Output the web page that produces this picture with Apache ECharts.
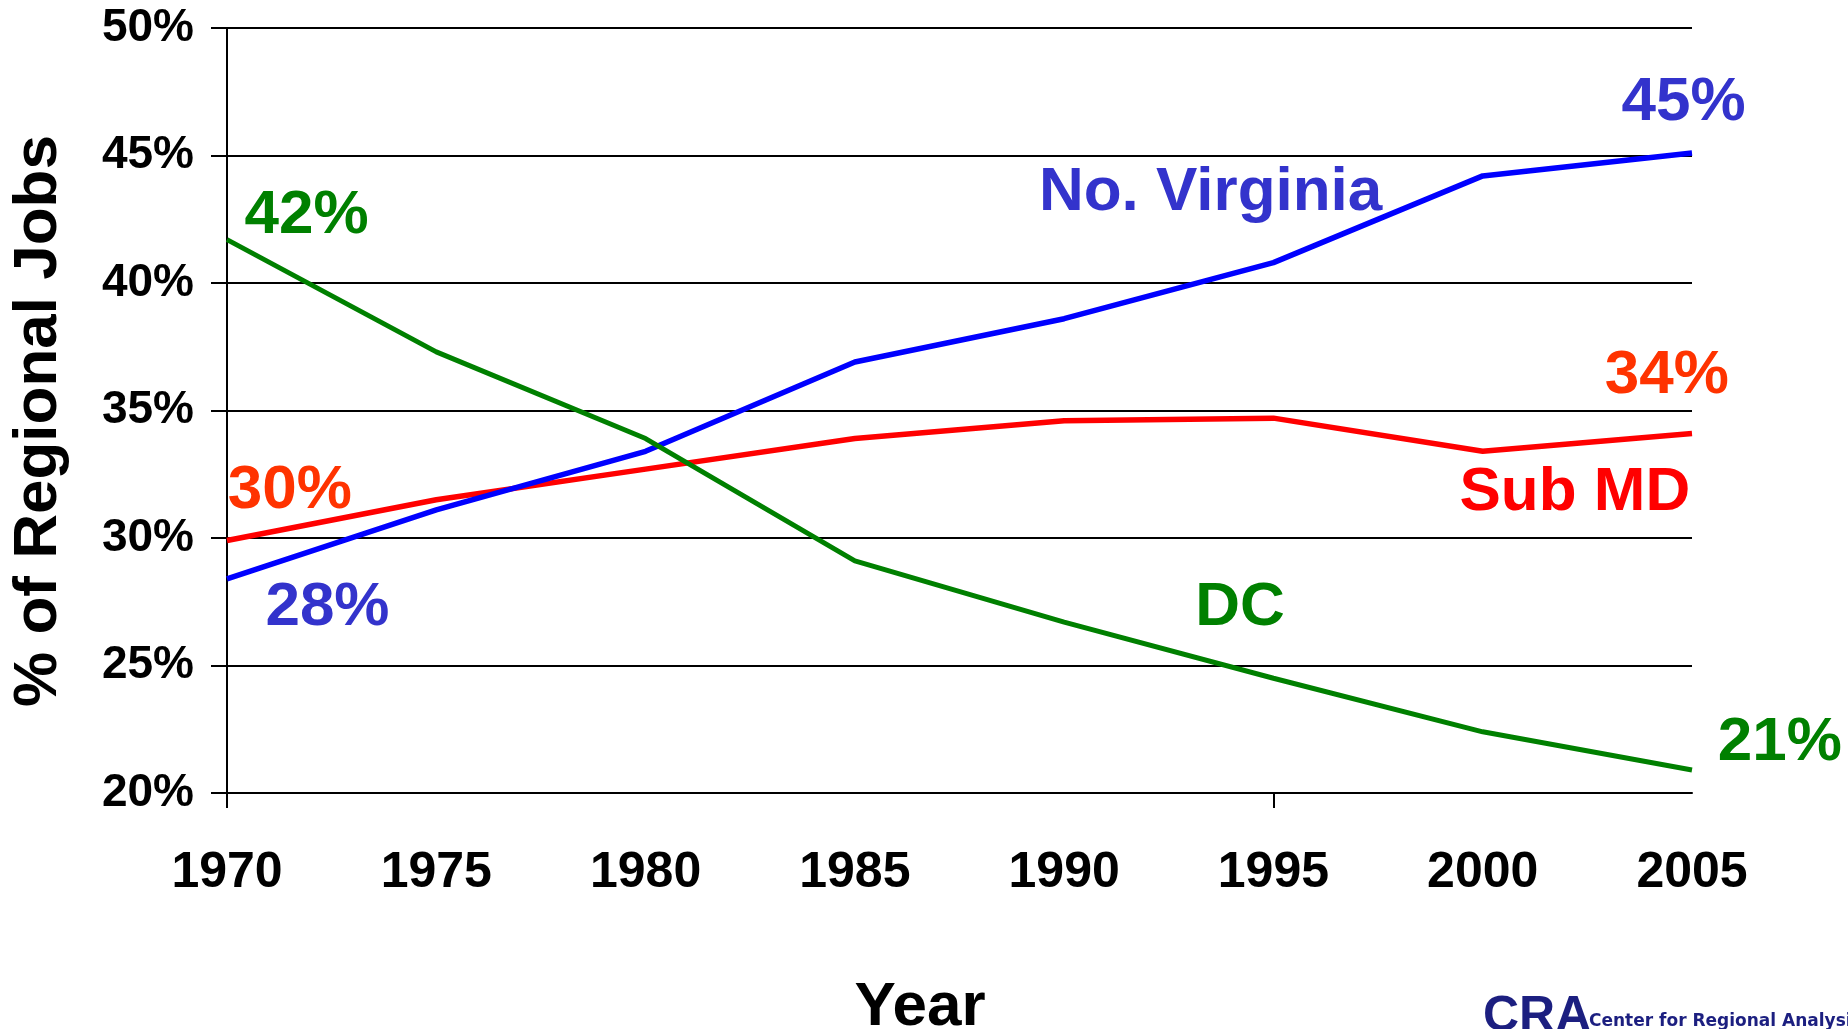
<!DOCTYPE html>
<html>
<head>
<meta charset="utf-8">
<title>Share of Regional Jobs</title>
<script src="https://cdn.jsdelivr.net/npm/echarts@6/dist/echarts.min.js"></script>
<style>
  html, body { margin: 0; padding: 0; background: #fff; }
  #jobs-share { width: 1848px; height: 1029px; }
</style>
</head>
<body>
<div id="jobs-share"></div>
<script>
  // data
  var years = [1970, 1975, 1980, 1985, 1990, 1995, 2000, 2005];
  var noVirginia = [28.4, 31.1, 33.4, 36.9, 38.6, 40.8, 44.2, 45.1];
  var subMD = [29.9, 31.5, 32.7, 33.9, 34.6, 34.7, 33.4, 34.1];
  var dc = [41.7, 37.3, 33.9, 29.1, 26.7, 24.5, 22.4, 20.9];
  var yTicks = [20, 25, 30, 35, 40, 45, 50];

  // text notes placed in data units (year, percent)
  var notes = [
    {text: '42%', at: [1971.9, 42.65], color: '#008000'},
    {text: '30%', at: [1971.5, 31.85], color: '#FF3300'},
    {text: '28%', at: [1972.4, 27.25], color: '#3333CC'},
    {text: 'No. Virginia', at: [1993.5, 43.55], color: '#3333CC'},
    {text: '45%', at: [2004.8, 47.05], color: '#3333CC'},
    {text: '34%', at: [2004.4, 36.35], color: '#FF3300'},
    {text: 'Sub MD', at: [2002.2, 31.75], color: '#FF0000'},
    {text: 'DC', at: [1994.2, 27.25], color: '#008000'},
    {text: '21%', at: [2007.1, 21.95], color: '#008000'}
  ];

  var font = 'Arial, "Liberation Sans", sans-serif';

  function pairs(vals) {
    return vals.map(function (v, i) { return [years[i], v]; });
  }

  var chart = echarts.init(document.getElementById('jobs-share'));

  chart.setOption({
    animation: false,
    backgroundColor: '#ffffff',
    grid: {left: 227, right: 156, top: 28, bottom: 236},
    xAxis: {
      type: 'value',
      min: years[0],
      max: years[years.length - 1],
      interval: 5,
      axisLine: {show: true, lineStyle: {color: '#000', width: 2}},
      axisTick: {show: true, customValues: [1970, 1995], length: 15, lineStyle: {color: '#000', width: 2}},
      splitLine: {show: false},
      axisLabel: {
        margin: 55,
        color: '#000',
        fontFamily: font,
        fontWeight: 'bold',
        fontSize: 50,
        formatter: function (v) { return String(v); }
      }
    },
    yAxis: {
      type: 'value',
      min: yTicks[0],
      max: yTicks[yTicks.length - 1],
      interval: 5,
      axisLine: {show: true, lineStyle: {color: '#000', width: 2}},
      axisTick: {show: true, length: 16, lineStyle: {color: '#000', width: 2}},
      splitLine: {show: true, lineStyle: {color: '#000', width: 2}},
      axisLabel: {
        margin: 33,
        color: '#000',
        fontFamily: font,
        fontWeight: 'bold',
        fontSize: 46,
        formatter: '{value}%'
      }
    },
    series: [
      {
        name: 'No. Virginia',
        type: 'line',
        data: pairs(noVirginia),
        showSymbol: false,
        lineStyle: {color: '#0000FF', width: 5.5},
        z: 3
      },
      {
        name: 'Sub MD',
        type: 'line',
        data: pairs(subMD),
        showSymbol: false,
        lineStyle: {color: '#FF0000', width: 5.5},
        z: 2
      },
      {
        name: 'DC',
        type: 'line',
        data: pairs(dc),
        showSymbol: false,
        lineStyle: {color: '#008000', width: 5},
        z: 4
      },
      {
        name: 'notes',
        type: 'scatter',
        clip: false,
        symbolSize: 0,
        silent: true,
        itemStyle: {opacity: 1},
        data: notes.map(function (n) {
          return {
            value: n.at,
            label: {
              show: true,
              position: 'inside',
              formatter: n.text,
              color: n.color,
              opacity: 1,
              fontFamily: font,
              fontWeight: 'bold',
              fontSize: 62
            }
          };
        }),
        z: 5
      }
    ],
    graphic: [
      {
        type: 'text',
        x: 39,
        y: 421,
        rotation: Math.PI / 2,
        style: {
          text: '% of Regional Jobs',
          fill: '#000',
          font: 'bold 62px ' + font,
          textAlign: 'center',
          textVerticalAlign: 'middle'
        }
      },
      {
        type: 'text',
        x: 920,
        y: 1008,
        style: {
          text: 'Year',
          fill: '#000',
          font: 'bold 62px ' + font,
          textAlign: 'center',
          textVerticalAlign: 'middle'
        }
      },
      {
        type: 'text',
        x: 1483,
        y: 992,
        style: {
          text: 'CRA',
          fill: '#1C1F80',
          font: 'bold 50px ' + font,
          textAlign: 'left',
          textVerticalAlign: 'top'
        }
      },
      {
        type: 'text',
        x: 1589,
        y: 1022,
        style: {
          text: 'Center for Regional Analysis',
          fill: '#1C1F80',
          font: 'bold 17px "DejaVu Sans", Verdana, sans-serif',
          textAlign: 'left',
          textVerticalAlign: 'middle'
        }
      }
    ]
  });

  window.addEventListener('resize', function () {
    chart.resize();
  });
</script>
</body>
</html>
